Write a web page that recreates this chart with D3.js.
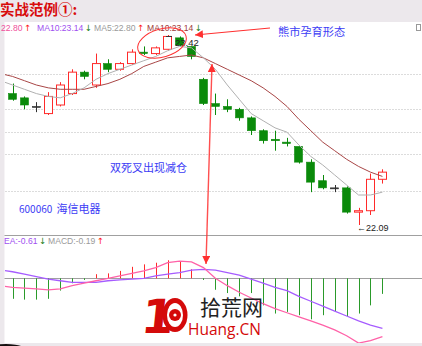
<!DOCTYPE html>
<html lang="zh">
<head>
<meta charset="UTF-8">
<title>实战范例①</title>
<script src="https://d3js.org/d3.v7.min.js"></script>
<style>
  body { margin: 0; background: #ece8ec; }
  svg { display: block; }
</style>
</head>
<body>
<svg id="chart" width="422" height="346"></svg>
<script>
// daily candles
const opens  = [23.12,23.01,22.98,22.92,22.87,22.93,23.01,23.16,23.07,23.22,23.18,23.22,23.30,23.29,23.32,23.40,23.34,23.11,22.94,22.92,22.90,22.84,22.75,22.69,22.67,22.64,22.53,22.40,22.35,22.35,22.18,22.19,22.41];
const closes = [23.09,22.97,22.93,22.92,22.99,23.07,23.16,23.13,23.22,23.18,23.22,23.30,23.29,23.33,23.41,23.35,23.27,22.94,22.92,22.90,22.84,22.75,22.68,22.68,22.66,22.53,22.39,22.35,22.35,22.18,22.19,22.41,22.46];
const highs  = [23.13,23.08,22.99,22.95,23.02,23.09,23.18,23.17,23.29,23.25,23.23,23.32,23.34,23.34,23.42,23.41,23.34,23.12,23.01,22.97,22.91,22.85,22.76,22.75,22.70,22.64,22.55,22.44,22.37,22.36,22.21,22.45,22.48];
const lows   = [23.08,22.96,22.90,22.88,22.86,22.92,23.00,23.11,23.05,23.16,23.17,23.21,23.28,23.28,23.31,23.34,23.25,22.93,22.86,22.88,22.82,22.72,22.66,22.61,22.64,22.52,22.32,22.34,22.32,22.17,22.09,22.16,22.38];

// moving averages
const ma5  = [23.10,23.07,23.04,23.01,22.99,22.98,23.01,23.05,23.11,23.15,23.18,23.21,23.24,23.27,23.31,23.34,23.33,23.26,23.18,23.07,22.97,22.87,22.82,22.77,22.74,22.65,22.57,22.51,22.44,22.37,22.30,22.30,22.32];
const ma10 = [23.15,23.13,23.10,23.07,23.05,23.04,23.04,23.04,23.06,23.08,23.11,23.15,23.20,23.23,23.26,23.27,23.28,23.26,23.22,23.18,23.14,23.10,23.05,22.99,22.92,22.83,22.75,22.67,22.61,22.55,22.50,22.46,22.43];

// MACD panel
const dif  = [-0.09,-0.11,-0.12,-0.13,-0.14,-0.13,-0.09,-0.06,-0.03,0.00,0.03,0.06,0.09,0.13,0.19,0.21,0.20,0.13,0.00,-0.09,-0.17,-0.24,-0.31,-0.37,-0.42,-0.47,-0.52,-0.57,-0.63,-0.70,-0.79,-0.76,-0.71];
const dea  = [0.10,0.08,0.05,0.02,-0.01,-0.03,-0.05,-0.05,-0.05,-0.03,-0.02,-0.01,0.00,0.03,0.05,0.07,0.10,0.11,0.10,0.07,0.04,-0.01,-0.06,-0.11,-0.15,-0.22,-0.28,-0.34,-0.40,-0.46,-0.52,-0.57,-0.61];
const macd = [-0.24,-0.25,-0.26,-0.26,-0.25,-0.15,-0.06,-0.02,0.05,0.06,0.09,0.14,0.17,0.19,0.22,0.21,0.11,-0.02,-0.14,-0.18,-0.22,-0.18,-0.33,-0.43,-0.41,-0.45,-0.50,-0.45,-0.41,-0.46,-0.43,-0.33,-0.19];

// dotted price levels
const gridPrices = [23.15, 22.90, 22.74, 22.59, 22.33];

const priceLegend = [
  { text: "22.80", color: "#f0509c", arrow: "↑", arrowColor: "#ff2020", x: 1 },
  { text: "MA10:23.14", color: "#a050f0", arrow: "↓", arrowColor: "#208020", x: 37 },
  { text: "MA5:22.80", color: "#9a9a9a", arrow: "↑", arrowColor: "#ff2020", x: 94 },
  { text: "MA10:23.14", color: "#a03a3a", arrow: "↓", arrowColor: "#208020", x: 147 }
];
const macdLegend = [
  { text: "EA:-0.61", color: "#a050f0", arrow: "↓", arrowColor: "#208020", x: 4 },
  { text: "MACD:-0.19", color: "#9a9a9a", arrow: "↑", arrowColor: "#ff2020", x: 48 }
];

const idx = d3.range(closes.length);
const svg = d3.select("#chart");

const panelLeft = 4.5, panelTop = 22, panelRight = 422, splitY = 235, panelBottom = 343;

const x = d3.scaleBand().domain(idx).range([-3.9, 386.9]).paddingInner(0.25);
const bw = x.bandwidth();
const cx = i => x(i) + bw / 2;

const yP = d3.scaleLinear().domain([22.09, 23.42]).range([225, 35]);
const yM = d3.scaleLinear().domain([-1, 1]).range([278.3 + 82, 278.3 - 82]);

// page + panel
svg.append("rect").attr("width", 422).attr("height", 346).attr("fill", "#ece8ec");
svg.append("rect").attr("x", panelLeft).attr("y", panelTop)
  .attr("width", panelRight - panelLeft).attr("height", panelBottom - panelTop).attr("fill", "#fff");
svg.append("ellipse").attr("cx", 6).attr("cy", 353).attr("rx", 24).attr("ry", 9).attr("fill", "#151010");

svg.append("text").attr("x", 0).attr("y", 15)
  .attr("font-family", "Noto Sans CJK SC").attr("font-weight", 700).attr("font-size", 14.5)
  .attr("fill", "#d80c0c").text("实战范例①:");

svg.append("rect").attr("x", 416.5).attr("y", 24.5).attr("width", 4).attr("height", 6)
  .attr("fill", "#fff").attr("stroke", "#999");

svg.append("defs").append("clipPath").attr("id", "plot")
  .append("rect").attr("x", panelLeft + 0.5).attr("y", panelTop)
  .attr("width", panelRight - panelLeft).attr("height", panelBottom - panelTop);

// legends
function legend(items, y) {
  items.forEach(d => {
    const t = svg.append("text").attr("x", d.x).attr("y", y)
      .attr("font-family", "Liberation Sans, Arial").attr("font-size", 8.6);
    t.append("tspan").attr("fill", d.color).text(d.text);
    t.append("tspan").attr("fill", d.arrowColor).attr("dx", 1.5).attr("font-family", "DejaVu Sans").text(d.arrow);
  });
}
legend(priceLegend, 30.5);
legend(macdLegend, 244);

// grid + separators
svg.selectAll(".grid").data(gridPrices).join("line")
  .attr("x1", panelLeft + 1).attr("x2", panelRight).attr("y1", d => Math.round(yP(d)) + 0.5).attr("y2", d => Math.round(yP(d)) + 0.5)
  .attr("stroke", "#b8b8b8").attr("stroke-dasharray", "1,2");
svg.append("line").attr("x1", panelLeft).attr("x2", panelRight).attr("y1", splitY + 0.5).attr("y2", splitY + 0.5)
  .attr("stroke", "#a0a0a0");
svg.append("line").attr("x1", panelLeft).attr("x2", panelRight).attr("y1", Math.round(yM(0)) + 0.5).attr("y2", Math.round(yM(0)) + 0.5)
  .attr("stroke", "#a0a0a0");

const plot = svg.append("g").attr("clip-path", "url(#plot)");

// candles
const kind = i => Math.abs(opens[i] - closes[i]) < 0.005 ? "doji" : (closes[i] > opens[i] ? "up" : "down");
const col = { up: "#ff2a2a", down: "#0a8a0a", doji: "#303030" };

const candles = plot.append("g").selectAll("g").data(idx).join("g");
candles.append("line")
  .attr("x1", i => Math.round(cx(i)) + 0.5).attr("x2", i => Math.round(cx(i)) + 0.5)
  .attr("y1", i => yP(highs[i])).attr("y2", i => yP(lows[i]))
  .attr("stroke", i => col[kind(i)]);
candles.append("rect")
  .attr("x", i => Math.round(x(i)) + 0.5)
  .attr("y", i => yP(Math.max(opens[i], closes[i])))
  .attr("width", Math.round(bw) - 1)
  .attr("height", i => Math.max(1, yP(Math.min(opens[i], closes[i])) - yP(Math.max(opens[i], closes[i]))))
  .attr("fill", i => kind(i) === "up" ? "#fff" : col[kind(i)])
  .attr("stroke", i => col[kind(i)])
  .attr("stroke-width", i => kind(i) === "up" ? 1 : 0.6);

// moving averages
const priceLine = arr => d3.line().x(i => cx(i)).y(i => yP(arr[i]))(idx);
plot.append("path").attr("d", priceLine(ma10)).attr("fill", "none").attr("stroke", "#a84646").attr("stroke-width", 1);
plot.append("path").attr("d", priceLine(ma5)).attr("fill", "none").attr("stroke", "#b0b0b0").attr("stroke-width", 1);

// MACD bars + lines
plot.append("g").selectAll("line").data(idx).join("line")
  .attr("x1", i => Math.round(cx(i)) + 0.5).attr("x2", i => Math.round(cx(i)) + 0.5)
  .attr("y1", yM(0)).attr("y2", i => yM(macd[i]))
  .attr("stroke", i => macd[i] >= 0 ? "#ff2a2a" : "#2a9a2a");
const macdLine = arr => d3.line().x(i => cx(i)).y(i => yM(arr[i]))(idx);
plot.append("path").attr("d", macdLine(dea)).attr("fill", "none").attr("stroke", "#a65cff").attr("stroke-width", 1.3);
plot.append("path").attr("d", macdLine(dif)).attr("fill", "none").attr("stroke", "#ff62a8").attr("stroke-width", 1.3);

// high / low labels
svg.append("line").attr("x1", 166).attr("x2", 172).attr("y1", 36.5).attr("y2", 36.5).attr("stroke", "#333");
svg.append("text").attr("x", 175).attr("y", 45.5).attr("font-family", "Liberation Sans, Arial").attr("font-size", 9.5)
  .attr("fill", "#222").text("23.42");
svg.append("text").attr("x", 357).attr("y", 230.5).attr("font-family", "Liberation Sans, Arial").attr("font-size", 9)
  .attr("fill", "#222").text("←22.09");

// annotations
const blue = "#3c3cf5";
const note = (t, x0, y0, fs) => svg.append("text").attr("x", x0).attr("y", y0)
  .attr("font-family", "Noto Sans CJK SC").attr("font-size", fs).attr("fill", blue).text(t);
note("熊市孕育形态", 278, 36, 11.2);
note("双死叉出现减仓", 110, 172, 11);
svg.append("text").attr("x", 19).attr("y", 213).attr("font-family", "Noto Sans CJK SC").attr("fill", blue)
  .call(t => { t.append("tspan").attr("font-size", 10).text("600060 "); t.append("tspan").attr("font-size", 11).attr("dx", 2).text("海信电器"); });

// red arrows and circle
const red = "#ff3030";
svg.select("defs").append("marker").attr("id", "ah")
  .attr("viewBox", "0 0 10 10").attr("refX", 10).attr("refY", 5)
  .attr("markerUnits", "userSpaceOnUse").attr("markerWidth", 8).attr("markerHeight", 8)
  .attr("orient", "auto-start-reverse")
  .append("path").attr("d", "M0,0 L10,5 L0,10 z").attr("fill", red);

svg.append("line").attr("x1", 270).attr("y1", 28).attr("x2", 195).attr("y2", 35)
  .attr("stroke", red).attr("stroke-width", 1.2).attr("marker-end", "url(#ah)");
svg.append("line").attr("x1", 212).attr("y1", 64).attr("x2", 206).attr("y2", 264)
  .attr("stroke", red).attr("stroke-width", 1.4).attr("stroke-opacity", 0.85)
  .attr("marker-start", "url(#ah)").attr("marker-end", "url(#ah)");
svg.append("ellipse").attr("cx", 162).attr("cy", 43).attr("rx", 25).attr("ry", 14)
  .attr("transform", "rotate(-16,162,43)").attr("fill", "none").attr("stroke", red).attr("stroke-width", 1);

// watermark
const logo = svg.append("g");
logo.append("text").attr("x", 140).attr("y", 333).attr("font-family", "DejaVu Sans").attr("font-weight", 700)
  .attr("font-size", 47).attr("fill", "#d40a0a").attr("transform", "skewX(-6) translate(35,0)").text("1");
logo.append("ellipse").attr("cx", 175).attr("cy", 315).attr("rx", 12.5).attr("ry", 17).attr("fill", "#d40a0a");
logo.append("ellipse").attr("cx", 175).attr("cy", 315).attr("rx", 8).attr("ry", 12).attr("fill", "#fff");
logo.append("circle").attr("cx", 175).attr("cy", 315).attr("r", 6).attr("fill", "#d40a0a");
logo.append("circle").attr("cx", 175).attr("cy", 315).attr("r", 1.6).attr("fill", "#fff");
logo.append("text").attr("x", 200).attr("y", 315).attr("font-family", "Noto Sans CJK SC")
  .attr("font-size", 21).attr("fill", "#222").text("拾荒网");
logo.append("text").attr("x", 188).attr("y", 335).attr("font-family", "Open Sans")
  .attr("font-size", 15.5).attr("fill", "#d40a0a").text("Huang.CN");
</script>
</body>
</html>
